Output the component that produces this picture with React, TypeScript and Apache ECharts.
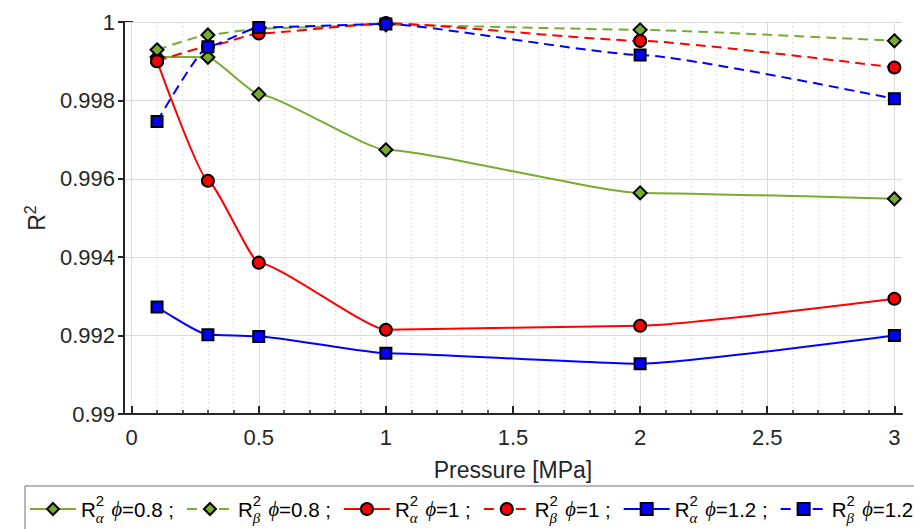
import React, { useEffect, useRef } from "react";
import * as echarts from "echarts";

// Pressure levels [MPa]
const pressure = [0.1, 0.3, 0.5, 1, 2, 3];

// Coefficients of determination per equivalence ratio
const r2AlphaPhi08 = [0.99911, 0.9991, 0.99816, 0.99674, 0.99564, 0.99549];
const r2BetaPhi08 = [0.99929, 0.99967, 0.99983, 0.99993, 0.9998, 0.99952];
const r2AlphaPhi10 = [0.999, 0.99595, 0.99386, 0.99215, 0.99225, 0.99294];
const r2BetaPhi10 = [0.999, 0.99937, 0.99971, 0.99997, 0.99952, 0.99884];
const r2AlphaPhi12 = [0.99273, 0.99202, 0.99198, 0.99155, 0.99128, 0.992];
const r2BetaPhi12 = [0.99746, 0.99937, 0.99986, 0.99995, 0.99916, 0.99804];

// Legend entries: subscript symbol, phi value and trailing separator
const seriesNames = ["Rα ϕ=0.8", "Rβ ϕ=0.8", "Rα ϕ=1", "Rβ ϕ=1", "Rα ϕ=1.2", "Rβ ϕ=1.2"];
const legendSub = ["α", "β", "α", "β", "α", "β"];
const legendPhi = ["0.8", "0.8", "1", "1", "1.2", "1.2"];
const legendSep = [" ;", " ;", " ;", " ;", " ;", ""];

const GREEN = "#77AC30";
const RED = "#FF0000";
const BLUE = "#0000FF";
const AXIS = "#262626";
const FONT = "'Liberation Sans', Arial, Helvetica, sans-serif";
const SERIF = "'Liberation Serif', 'DejaVu Serif', serif";
const LEGEND_FS = 20.5;

function pairs(ys: number[]) {
  return pressure.map((x, i) => [x, ys[i]]);
}

function makeSeries(
  name: string,
  ys: number[],
  color: string,
  dashed: boolean,
  symbol: string,
  size: number
) {
  return {
    name,
    type: "line",
    xAxisIndex: 0,
    yAxisIndex: 0,
    data: pairs(ys),
    smooth: 0.15,
    smoothMonotone: "x",
    symbol,
    symbolSize: size,
    showAllSymbol: true,
    lineStyle: { color, width: 2, type: dashed ? [10, 6] : "solid" },
    itemStyle: { color, borderColor: "#000", borderWidth: 2 },
    emphasis: { disabled: true },
  };
}

export default function App() {
  const ref = useRef<HTMLDivElement>(null);

  useEffect(() => {
    if (!ref.current) return;
    const chart = echarts.init(ref.current, undefined, { renderer: "svg" });

    const W = 914;
    // data grid spans slightly beyond [0, 3]
    const xMinA = -0.03;
    const xMaxA = 3.03;
    const gA = { left: 124, right: 12, top: 22, bottom: 115 };
    const widthA = W - gA.left - gA.right;
    const px = (v: number) => gA.left + ((v - xMinA) / (xMaxA - xMinA)) * widthA;
    const gB = { left: px(0), right: W - px(3), top: 22, bottom: 115 };

    const legendFormatter = (name: string) => {
      const i = seriesNames.indexOf(name);
      return `{r|R}{sup|2}{sub|${legendSub[i]}}{t| }{phi|ϕ}{t|=${legendPhi[i]}${legendSep[i]}}`;
    };

    chart.setOption({
      animation: false,
      textStyle: { fontFamily: FONT },
      grid: [
        { ...gA, containLabel: false },
        { ...gB, containLabel: false },
      ],
      xAxis: [
        {
          type: "value",
          gridIndex: 0,
          min: xMinA,
          max: xMaxA,
          axisLine: { show: true, onZero: false, lineStyle: { color: AXIS, width: 2 } },
          axisTick: { show: false },
          axisLabel: { show: false },
          splitLine: { show: false },
        },
        {
          type: "value",
          gridIndex: 1,
          min: 0,
          max: 3,
          interval: 0.5,
          name: "Pressure [MPa]",
          nameLocation: "middle",
          nameGap: 44,
          nameTextStyle: { fontSize: 23, color: AXIS, fontFamily: FONT },
          axisLine: { show: false, onZero: false },
          axisTick: { show: true, inside: true, length: 8, lineStyle: { color: AXIS, width: 2 } },
          minorTick: { show: true, splitNumber: 5, length: 4, lineStyle: { color: AXIS, width: 1.5 } },
          axisLabel: { fontSize: 22, color: AXIS, margin: 12, fontFamily: FONT },
          splitLine: { show: true, lineStyle: { color: "#dcdcdc", width: 1 } },
          minorSplitLine: { show: true, lineStyle: { color: "#e4e4e4", width: 1, type: [2, 2] } },
        },
      ],
      yAxis: [
        {
          type: "value",
          gridIndex: 0,
          min: 0.99,
          max: 1,
          interval: 0.002,
          name: "{r|R}{s|2}",
          nameLocation: "middle",
          nameGap: 76,
          nameTextStyle: {
            color: AXIS,
            rich: {
              r: { fontSize: 23, color: AXIS, fontFamily: FONT, lineHeight: 26, verticalAlign: "bottom" },
              s: { fontSize: 16, color: AXIS, fontFamily: FONT, lineHeight: 16, verticalAlign: "top" },
            },
          },
          axisLine: { show: true, onZero: false, lineStyle: { color: AXIS, width: 2 } },
          axisTick: { show: true, inside: false, length: 6, lineStyle: { color: AXIS, width: 2 } },
          axisLabel: { fontSize: 22, color: AXIS, margin: 9, fontFamily: FONT },
          splitLine: { show: true, lineStyle: { color: "#dcdcdc", width: 1 } },
        },
        {
          type: "value",
          gridIndex: 1,
          min: 0.99,
          max: 1,
          show: false,
          splitLine: { show: false },
        },
      ],
      legend: {
        data: seriesNames,
        left: 25,
        top: 486,
        width: 1200,
        orient: "horizontal",
        padding: [7, 4, 10, 4],
        itemGap: 12,
        itemWidth: 46,
        itemHeight: 15,
        borderColor: "#6e6e6e",
        borderWidth: 1,
        borderRadius: 0,
        backgroundColor: "#fff",
        selectedMode: false,
        formatter: legendFormatter,
        textStyle: {
          color: "#000",
          fontFamily: FONT,
          fontSize: LEGEND_FS,
          rich: {
            r: { fontSize: LEGEND_FS, fontFamily: FONT, color: "#000", lineHeight: 32 },
            sup: { fontSize: 15, fontFamily: FONT, color: "#000", lineHeight: 16, verticalAlign: "top", width: 0 },
            sub: {
              fontSize: 15,
              fontFamily: SERIF,
              fontStyle: "italic",
              color: "#000",
              lineHeight: 12,
              verticalAlign: "bottom",
              width: 10,
            },
            phi: { fontSize: LEGEND_FS, fontFamily: SERIF, fontStyle: "italic", color: "#000", lineHeight: 32 },
            t: { fontSize: LEGEND_FS, fontFamily: FONT, color: "#000", lineHeight: 32 },
          },
        },
      },
      graphic: [
        {
          type: "line",
          shape: { x1: gA.left, y1: gA.top, x2: gA.left + 9, y2: gA.top },
          style: { stroke: AXIS, lineWidth: 2 },
          silent: true,
        },
      ],
      series: [
        makeSeries(seriesNames[0], r2AlphaPhi08, GREEN, false, "diamond", 13),
        makeSeries(seriesNames[1], r2BetaPhi08, GREEN, true, "diamond", 13),
        makeSeries(seriesNames[2], r2AlphaPhi10, RED, false, "circle", 12),
        makeSeries(seriesNames[3], r2BetaPhi10, RED, true, "circle", 12),
        makeSeries(seriesNames[4], r2AlphaPhi12, BLUE, false, "rect", 11),
        makeSeries(seriesNames[5], r2BetaPhi12, BLUE, true, "rect", 11),
      ],
    });

    return () => chart.dispose();
  }, []);

  return <div ref={ref} style={{ width: 914, height: 529, position: "absolute", left: 0, top: 0 }} />;
}
